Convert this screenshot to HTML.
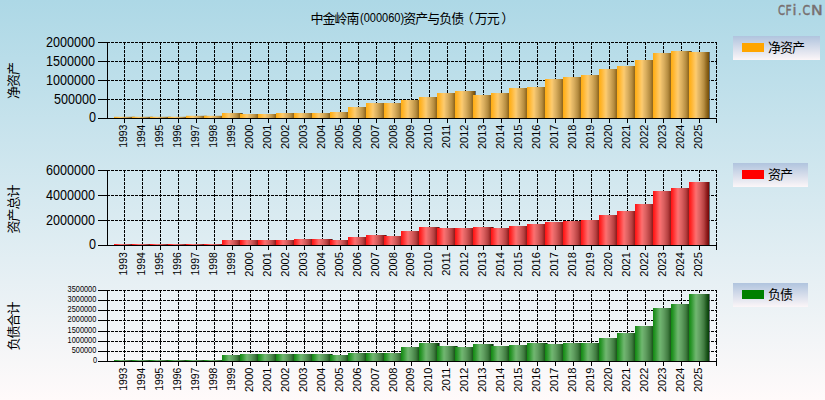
<!DOCTYPE html>
<html><head><meta charset="utf-8"><style>
html,body{margin:0;padding:0;width:825px;height:400px;overflow:hidden;background:#fff}
svg{display:block}
text{font-family:"Liberation Sans","Noto Sans CJK SC",sans-serif;fill:#000}
.yl{font-size:14px}
.ys{font-size:9px}
.xl{font-size:11px}
.at,.lt,.tt{font-size:13px;letter-spacing:-1px}
.tn{font-size:12px}
.wm text{font-size:14.5px;font-family:"DejaVu Sans",sans-serif;fill:#787070;stroke:#787070;stroke-width:0.45}
</style></head><body>
<svg width="825" height="400" viewBox="0 0 825 400">
<defs>
<linearGradient id="bg" x1="0" y1="0" x2="0" y2="1"><stop offset="0" stop-color="#add8e6"/><stop offset="1" stop-color="#fffafa"/></linearGradient>
<linearGradient id="lg" x1="0" y1="0" x2="0" y2="1"><stop offset="0" stop-color="#b0c4de"/><stop offset="1" stop-color="#fcf6f8"/></linearGradient>
<linearGradient id="gO" x1="0" y1="0" x2="1" y2="0"><stop offset="0.0" stop-color="rgb(255,171,18)"/><stop offset="0.05" stop-color="rgb(255,177,28)"/><stop offset="0.15" stop-color="rgb(255,184,54)"/><stop offset="0.25" stop-color="rgb(255,195,84)"/><stop offset="0.35" stop-color="rgb(252,203,112)"/><stop offset="0.45" stop-color="rgb(232,187,105)"/><stop offset="0.55" stop-color="rgb(217,174,94)"/><stop offset="0.65" stop-color="rgb(199,157,79)"/><stop offset="0.75" stop-color="rgb(181,140,64)"/><stop offset="0.85" stop-color="rgb(153,112,38)"/><stop offset="0.95" stop-color="rgb(128,88,15)"/><stop offset="1.0" stop-color="rgb(117,78,5)"/></linearGradient>
<linearGradient id="gR" x1="0" y1="0" x2="1" y2="0"><stop offset="0.0" stop-color="rgb(255,18,18)"/><stop offset="0.05" stop-color="rgb(255,28,28)"/><stop offset="0.15" stop-color="rgb(255,54,54)"/><stop offset="0.25" stop-color="rgb(255,84,84)"/><stop offset="0.35" stop-color="rgb(252,112,112)"/><stop offset="0.45" stop-color="rgb(232,105,105)"/><stop offset="0.55" stop-color="rgb(217,94,94)"/><stop offset="0.65" stop-color="rgb(199,79,79)"/><stop offset="0.75" stop-color="rgb(181,64,64)"/><stop offset="0.85" stop-color="rgb(153,38,38)"/><stop offset="0.95" stop-color="rgb(128,15,15)"/><stop offset="1.0" stop-color="rgb(117,5,5)"/></linearGradient>
<linearGradient id="gG" x1="0" y1="0" x2="1" y2="0"><stop offset="0.0" stop-color="rgb(18,137,18)"/><stop offset="0.05" stop-color="rgb(28,143,28)"/><stop offset="0.15" stop-color="rgb(54,155,54)"/><stop offset="0.25" stop-color="rgb(84,170,84)"/><stop offset="0.35" stop-color="rgb(112,183,112)"/><stop offset="0.45" stop-color="rgb(105,169,105)"/><stop offset="0.55" stop-color="rgb(94,156,94)"/><stop offset="0.65" stop-color="rgb(79,139,79)"/><stop offset="0.75" stop-color="rgb(64,123,64)"/><stop offset="0.85" stop-color="rgb(38,96,38)"/><stop offset="0.95" stop-color="rgb(15,72,15)"/><stop offset="1.0" stop-color="rgb(5,61,5)"/></linearGradient>
</defs>
<rect x="0" y="0" width="825" height="400" fill="url(#bg)"/>
<path d="M107 42.5H717M107 61.5H717M107 80.5H717M107 99.5H717M124.5 42V118M142.5 42V118M160.5 42V118M178.5 42V118M196.5 42V118M214.5 42V118M232.5 42V118M250.5 42V118M268.5 42V118M286.5 42V118M304.5 42V118M322.5 42V118M340.5 42V118M358.5 42V118M376.5 42V118M394.5 42V118M411.5 42V118M429.5 42V118M447.5 42V118M465.5 42V118M483.5 42V118M501.5 42V118M519.5 42V118M537.5 42V118M555.5 42V118M573.5 42V118M591.5 42V118M609.5 42V118M627.5 42V118M645.5 42V118M663.5 42V118M681.5 42V118M699.5 42V118M716.5 42V118" stroke="#000" stroke-width="1" stroke-dasharray="3 1" fill="none"/>
<rect x="114" y="116.8" width="20" height="1.20" fill="url(#gO)"/><rect x="134" y="116.8" width="1" height="1.20" fill="#3c4650" fill-opacity="0.75"/>
<rect x="132" y="116.8" width="20" height="1.20" fill="url(#gO)"/><rect x="152" y="116.8" width="1" height="1.20" fill="#3c4650" fill-opacity="0.75"/>
<rect x="150" y="116.8" width="20" height="1.20" fill="url(#gO)"/><rect x="170" y="116.8" width="1" height="1.20" fill="#3c4650" fill-opacity="0.75"/>
<rect x="168" y="116.8" width="20" height="1.20" fill="url(#gO)"/><rect x="188" y="116.8" width="1" height="1.20" fill="#3c4650" fill-opacity="0.75"/>
<rect x="186" y="115.8" width="20" height="2.20" fill="url(#gO)"/><rect x="206" y="115.8" width="1" height="2.20" fill="#3c4650" fill-opacity="0.75"/>
<rect x="204" y="115.8" width="20" height="2.20" fill="url(#gO)"/><rect x="224" y="115.8" width="1" height="2.20" fill="#3c4650" fill-opacity="0.75"/>
<rect x="222" y="113" width="20" height="5.00" fill="url(#gO)"/><rect x="242" y="113" width="1" height="5.00" fill="#3c4650" fill-opacity="0.75"/>
<rect x="240" y="114" width="20" height="4.00" fill="url(#gO)"/><rect x="260" y="114" width="1" height="4.00" fill="#3c4650" fill-opacity="0.75"/>
<rect x="258" y="114" width="20" height="4.00" fill="url(#gO)"/><rect x="278" y="114" width="1" height="4.00" fill="#3c4650" fill-opacity="0.75"/>
<rect x="276" y="113" width="20" height="5.00" fill="url(#gO)"/><rect x="296" y="113" width="1" height="5.00" fill="#3c4650" fill-opacity="0.75"/>
<rect x="294" y="113" width="20" height="5.00" fill="url(#gO)"/><rect x="314" y="113" width="1" height="5.00" fill="#3c4650" fill-opacity="0.75"/>
<rect x="312" y="113" width="20" height="5.00" fill="url(#gO)"/><rect x="332" y="113" width="1" height="5.00" fill="#3c4650" fill-opacity="0.75"/>
<rect x="330" y="112" width="20" height="6.00" fill="url(#gO)"/><rect x="350" y="112" width="1" height="6.00" fill="#3c4650" fill-opacity="0.75"/>
<rect x="348" y="107" width="20" height="11.00" fill="url(#gO)"/><rect x="368" y="107" width="1" height="11.00" fill="#3c4650" fill-opacity="0.75"/>
<rect x="366" y="103" width="20" height="15.00" fill="url(#gO)"/><rect x="386" y="103" width="1" height="15.00" fill="#3c4650" fill-opacity="0.75"/>
<rect x="384" y="103" width="20" height="15.00" fill="url(#gO)"/><rect x="404" y="103" width="1" height="15.00" fill="#3c4650" fill-opacity="0.75"/>
<rect x="401" y="100" width="20" height="18.00" fill="url(#gO)"/><rect x="421" y="100" width="1" height="18.00" fill="#3c4650" fill-opacity="0.75"/>
<rect x="419" y="97" width="20" height="21.00" fill="url(#gO)"/><rect x="439" y="97" width="1" height="21.00" fill="#3c4650" fill-opacity="0.75"/>
<rect x="437" y="93" width="20" height="25.00" fill="url(#gO)"/><rect x="457" y="93" width="1" height="25.00" fill="#3c4650" fill-opacity="0.75"/>
<rect x="455" y="91" width="20" height="27.00" fill="url(#gO)"/><rect x="475" y="91" width="1" height="27.00" fill="#3c4650" fill-opacity="0.75"/>
<rect x="473" y="95" width="20" height="23.00" fill="url(#gO)"/><rect x="493" y="95" width="1" height="23.00" fill="#3c4650" fill-opacity="0.75"/>
<rect x="491" y="93" width="20" height="25.00" fill="url(#gO)"/><rect x="511" y="93" width="1" height="25.00" fill="#3c4650" fill-opacity="0.75"/>
<rect x="509" y="88" width="20" height="30.00" fill="url(#gO)"/><rect x="529" y="88" width="1" height="30.00" fill="#3c4650" fill-opacity="0.75"/>
<rect x="527" y="87" width="20" height="31.00" fill="url(#gO)"/><rect x="547" y="87" width="1" height="31.00" fill="#3c4650" fill-opacity="0.75"/>
<rect x="545" y="79" width="20" height="39.00" fill="url(#gO)"/><rect x="565" y="79" width="1" height="39.00" fill="#3c4650" fill-opacity="0.75"/>
<rect x="563" y="77" width="20" height="41.00" fill="url(#gO)"/><rect x="583" y="77" width="1" height="41.00" fill="#3c4650" fill-opacity="0.75"/>
<rect x="581" y="75" width="20" height="43.00" fill="url(#gO)"/><rect x="601" y="75" width="1" height="43.00" fill="#3c4650" fill-opacity="0.75"/>
<rect x="599" y="69" width="20" height="49.00" fill="url(#gO)"/><rect x="619" y="69" width="1" height="49.00" fill="#3c4650" fill-opacity="0.75"/>
<rect x="617" y="66" width="20" height="52.00" fill="url(#gO)"/><rect x="637" y="66" width="1" height="52.00" fill="#3c4650" fill-opacity="0.75"/>
<rect x="635" y="60" width="20" height="58.00" fill="url(#gO)"/><rect x="655" y="60" width="1" height="58.00" fill="#3c4650" fill-opacity="0.75"/>
<rect x="653" y="53" width="20" height="65.00" fill="url(#gO)"/><rect x="673" y="53" width="1" height="65.00" fill="#3c4650" fill-opacity="0.75"/>
<rect x="671" y="51" width="20" height="67.00" fill="url(#gO)"/><rect x="691" y="51" width="1" height="67.00" fill="#3c4650" fill-opacity="0.75"/>
<rect x="689" y="52" width="20" height="66.00" fill="url(#gO)"/><rect x="709" y="52" width="1" height="66.00" fill="#3c4650" fill-opacity="0.75"/>
<path d="M107.5 42V119M107 118.5H717M98 42.5H107M98 61.5H107M98 80.5H107M98 99.5H107M98 118.5H107M124.5 118V123M142.5 118V123M160.5 118V123M178.5 118V123M196.5 118V123M214.5 118V123M232.5 118V123M250.5 118V123M268.5 118V123M286.5 118V123M304.5 118V123M322.5 118V123M340.5 118V123M358.5 118V123M376.5 118V123M394.5 118V123M411.5 118V123M429.5 118V123M447.5 118V123M465.5 118V123M483.5 118V123M501.5 118V123M519.5 118V123M537.5 118V123M555.5 118V123M573.5 118V123M591.5 118V123M609.5 118V123M627.5 118V123M645.5 118V123M663.5 118V123M681.5 118V123M699.5 118V123M716.5 118V123" stroke="#000" stroke-width="1" fill="none"/>
<text class="yl" text-anchor="end" transform="translate(95,47) scale(0.9,1)">2000000</text>
<text class="yl" text-anchor="end" transform="translate(95,66) scale(0.9,1)">1500000</text>
<text class="yl" text-anchor="end" transform="translate(95,85) scale(0.9,1)">1000000</text>
<text class="yl" text-anchor="end" transform="translate(96.1,104) scale(0.9,1)">500000</text>
<text class="yl" text-anchor="end" transform="translate(96.1,122.3) scale(0.9,1)">0</text>
<text class="xl" text-anchor="end" transform="translate(127.2,124.6) rotate(-90) scale(0.95,1)">1993</text>
<text class="xl" text-anchor="end" transform="translate(145.2,124.6) rotate(-90) scale(0.95,1)">1994</text>
<text class="xl" text-anchor="end" transform="translate(163.2,124.6) rotate(-90) scale(0.95,1)">1995</text>
<text class="xl" text-anchor="end" transform="translate(181.2,124.6) rotate(-90) scale(0.95,1)">1996</text>
<text class="xl" text-anchor="end" transform="translate(199.2,124.6) rotate(-90) scale(0.95,1)">1997</text>
<text class="xl" text-anchor="end" transform="translate(217.2,124.6) rotate(-90) scale(0.95,1)">1998</text>
<text class="xl" text-anchor="end" transform="translate(235.2,124.6) rotate(-90) scale(0.95,1)">1999</text>
<text class="xl" text-anchor="end" transform="translate(253.2,124.6) rotate(-90)">2000</text>
<text class="xl" text-anchor="end" transform="translate(271.2,124.6) rotate(-90)">2001</text>
<text class="xl" text-anchor="end" transform="translate(289.2,124.6) rotate(-90)">2002</text>
<text class="xl" text-anchor="end" transform="translate(307.2,124.6) rotate(-90)">2003</text>
<text class="xl" text-anchor="end" transform="translate(325.2,124.6) rotate(-90)">2004</text>
<text class="xl" text-anchor="end" transform="translate(343.2,124.6) rotate(-90)">2005</text>
<text class="xl" text-anchor="end" transform="translate(361.2,124.6) rotate(-90)">2006</text>
<text class="xl" text-anchor="end" transform="translate(379.2,124.6) rotate(-90)">2007</text>
<text class="xl" text-anchor="end" transform="translate(397.2,124.6) rotate(-90)">2008</text>
<text class="xl" text-anchor="end" transform="translate(414.2,124.6) rotate(-90)">2009</text>
<text class="xl" text-anchor="end" transform="translate(432.2,124.6) rotate(-90)">2010</text>
<text class="xl" text-anchor="end" transform="translate(450.2,124.6) rotate(-90)">2011</text>
<text class="xl" text-anchor="end" transform="translate(468.2,124.6) rotate(-90)">2012</text>
<text class="xl" text-anchor="end" transform="translate(486.2,124.6) rotate(-90)">2013</text>
<text class="xl" text-anchor="end" transform="translate(504.2,124.6) rotate(-90)">2014</text>
<text class="xl" text-anchor="end" transform="translate(522.2,124.6) rotate(-90)">2015</text>
<text class="xl" text-anchor="end" transform="translate(540.2,124.6) rotate(-90)">2016</text>
<text class="xl" text-anchor="end" transform="translate(558.2,124.6) rotate(-90)">2017</text>
<text class="xl" text-anchor="end" transform="translate(576.2,124.6) rotate(-90)">2018</text>
<text class="xl" text-anchor="end" transform="translate(594.2,124.6) rotate(-90)">2019</text>
<text class="xl" text-anchor="end" transform="translate(612.2,124.6) rotate(-90)">2020</text>
<text class="xl" text-anchor="end" transform="translate(630.2,124.6) rotate(-90)">2021</text>
<text class="xl" text-anchor="end" transform="translate(648.2,124.6) rotate(-90)">2022</text>
<text class="xl" text-anchor="end" transform="translate(666.2,124.6) rotate(-90)">2023</text>
<text class="xl" text-anchor="end" transform="translate(684.2,124.6) rotate(-90)">2024</text>
<text class="xl" text-anchor="end" transform="translate(702.2,124.6) rotate(-90)">2025</text>
<text class="at" text-anchor="middle" transform="translate(17.5,81) rotate(-90)">净资产</text>
<path d="M107 170.5H717M107 195.5H717M107 220.5H717M124.5 170V245M142.5 170V245M160.5 170V245M178.5 170V245M196.5 170V245M214.5 170V245M232.5 170V245M250.5 170V245M268.5 170V245M286.5 170V245M304.5 170V245M322.5 170V245M340.5 170V245M358.5 170V245M376.5 170V245M394.5 170V245M411.5 170V245M429.5 170V245M447.5 170V245M465.5 170V245M483.5 170V245M501.5 170V245M519.5 170V245M537.5 170V245M555.5 170V245M573.5 170V245M591.5 170V245M609.5 170V245M627.5 170V245M645.5 170V245M663.5 170V245M681.5 170V245M699.5 170V245M716.5 170V245" stroke="#000" stroke-width="1" stroke-dasharray="3 1" fill="none"/>
<rect x="114" y="244.0" width="20" height="1.00" fill="url(#gR)"/><rect x="134" y="244.0" width="1" height="1.00" fill="#3c4650" fill-opacity="0.75"/>
<rect x="132" y="244.0" width="20" height="1.00" fill="url(#gR)"/><rect x="152" y="244.0" width="1" height="1.00" fill="#3c4650" fill-opacity="0.75"/>
<rect x="150" y="244.0" width="20" height="1.00" fill="url(#gR)"/><rect x="170" y="244.0" width="1" height="1.00" fill="#3c4650" fill-opacity="0.75"/>
<rect x="168" y="244.0" width="20" height="1.00" fill="url(#gR)"/><rect x="188" y="244.0" width="1" height="1.00" fill="#3c4650" fill-opacity="0.75"/>
<rect x="186" y="244.0" width="20" height="1.00" fill="url(#gR)"/><rect x="206" y="244.0" width="1" height="1.00" fill="#3c4650" fill-opacity="0.75"/>
<rect x="204" y="244.0" width="20" height="1.00" fill="url(#gR)"/><rect x="224" y="244.0" width="1" height="1.00" fill="#3c4650" fill-opacity="0.75"/>
<rect x="222" y="240" width="20" height="5.00" fill="url(#gR)"/><rect x="242" y="240" width="1" height="5.00" fill="#3c4650" fill-opacity="0.75"/>
<rect x="240" y="240" width="20" height="5.00" fill="url(#gR)"/><rect x="260" y="240" width="1" height="5.00" fill="#3c4650" fill-opacity="0.75"/>
<rect x="258" y="240" width="20" height="5.00" fill="url(#gR)"/><rect x="278" y="240" width="1" height="5.00" fill="#3c4650" fill-opacity="0.75"/>
<rect x="276" y="240" width="20" height="5.00" fill="url(#gR)"/><rect x="296" y="240" width="1" height="5.00" fill="#3c4650" fill-opacity="0.75"/>
<rect x="294" y="239" width="20" height="6.00" fill="url(#gR)"/><rect x="314" y="239" width="1" height="6.00" fill="#3c4650" fill-opacity="0.75"/>
<rect x="312" y="239" width="20" height="6.00" fill="url(#gR)"/><rect x="332" y="239" width="1" height="6.00" fill="#3c4650" fill-opacity="0.75"/>
<rect x="330" y="240" width="20" height="5.00" fill="url(#gR)"/><rect x="350" y="240" width="1" height="5.00" fill="#3c4650" fill-opacity="0.75"/>
<rect x="348" y="237" width="20" height="8.00" fill="url(#gR)"/><rect x="368" y="237" width="1" height="8.00" fill="#3c4650" fill-opacity="0.75"/>
<rect x="366" y="235" width="20" height="10.00" fill="url(#gR)"/><rect x="386" y="235" width="1" height="10.00" fill="#3c4650" fill-opacity="0.75"/>
<rect x="384" y="236" width="20" height="9.00" fill="url(#gR)"/><rect x="404" y="236" width="1" height="9.00" fill="#3c4650" fill-opacity="0.75"/>
<rect x="401" y="231" width="20" height="14.00" fill="url(#gR)"/><rect x="421" y="231" width="1" height="14.00" fill="#3c4650" fill-opacity="0.75"/>
<rect x="419" y="227" width="20" height="18.00" fill="url(#gR)"/><rect x="439" y="227" width="1" height="18.00" fill="#3c4650" fill-opacity="0.75"/>
<rect x="437" y="228" width="20" height="17.00" fill="url(#gR)"/><rect x="457" y="228" width="1" height="17.00" fill="#3c4650" fill-opacity="0.75"/>
<rect x="455" y="228" width="20" height="17.00" fill="url(#gR)"/><rect x="475" y="228" width="1" height="17.00" fill="#3c4650" fill-opacity="0.75"/>
<rect x="473" y="227" width="20" height="18.00" fill="url(#gR)"/><rect x="493" y="227" width="1" height="18.00" fill="#3c4650" fill-opacity="0.75"/>
<rect x="491" y="228" width="20" height="17.00" fill="url(#gR)"/><rect x="511" y="228" width="1" height="17.00" fill="#3c4650" fill-opacity="0.75"/>
<rect x="509" y="226" width="20" height="19.00" fill="url(#gR)"/><rect x="529" y="226" width="1" height="19.00" fill="#3c4650" fill-opacity="0.75"/>
<rect x="527" y="224" width="20" height="21.00" fill="url(#gR)"/><rect x="547" y="224" width="1" height="21.00" fill="#3c4650" fill-opacity="0.75"/>
<rect x="545" y="222" width="20" height="23.00" fill="url(#gR)"/><rect x="565" y="222" width="1" height="23.00" fill="#3c4650" fill-opacity="0.75"/>
<rect x="563" y="221" width="20" height="24.00" fill="url(#gR)"/><rect x="583" y="221" width="1" height="24.00" fill="#3c4650" fill-opacity="0.75"/>
<rect x="581" y="220" width="20" height="25.00" fill="url(#gR)"/><rect x="601" y="220" width="1" height="25.00" fill="#3c4650" fill-opacity="0.75"/>
<rect x="599" y="215" width="20" height="30.00" fill="url(#gR)"/><rect x="619" y="215" width="1" height="30.00" fill="#3c4650" fill-opacity="0.75"/>
<rect x="617" y="211" width="20" height="34.00" fill="url(#gR)"/><rect x="637" y="211" width="1" height="34.00" fill="#3c4650" fill-opacity="0.75"/>
<rect x="635" y="204" width="20" height="41.00" fill="url(#gR)"/><rect x="655" y="204" width="1" height="41.00" fill="#3c4650" fill-opacity="0.75"/>
<rect x="653" y="191" width="20" height="54.00" fill="url(#gR)"/><rect x="673" y="191" width="1" height="54.00" fill="#3c4650" fill-opacity="0.75"/>
<rect x="671" y="188" width="20" height="57.00" fill="url(#gR)"/><rect x="691" y="188" width="1" height="57.00" fill="#3c4650" fill-opacity="0.75"/>
<rect x="689" y="182" width="20" height="63.00" fill="url(#gR)"/><rect x="709" y="182" width="1" height="63.00" fill="#3c4650" fill-opacity="0.75"/>
<path d="M107.5 170V246M107 245.5H717M98 170.5H107M98 195.5H107M98 220.5H107M98 245.5H107M124.5 245V250M142.5 245V250M160.5 245V250M178.5 245V250M196.5 245V250M214.5 245V250M232.5 245V250M250.5 245V250M268.5 245V250M286.5 245V250M304.5 245V250M322.5 245V250M340.5 245V250M358.5 245V250M376.5 245V250M394.5 245V250M411.5 245V250M429.5 245V250M447.5 245V250M465.5 245V250M483.5 245V250M501.5 245V250M519.5 245V250M537.5 245V250M555.5 245V250M573.5 245V250M591.5 245V250M609.5 245V250M627.5 245V250M645.5 245V250M663.5 245V250M681.5 245V250M699.5 245V250M716.5 245V250" stroke="#000" stroke-width="1" fill="none"/>
<text class="yl" text-anchor="end" transform="translate(95,175) scale(0.9,1)">6000000</text>
<text class="yl" text-anchor="end" transform="translate(95,200) scale(0.9,1)">4000000</text>
<text class="yl" text-anchor="end" transform="translate(95,225) scale(0.9,1)">2000000</text>
<text class="yl" text-anchor="end" transform="translate(96.1,249.3) scale(0.9,1)">0</text>
<text class="xl" text-anchor="end" transform="translate(127.2,252.2) rotate(-90) scale(0.95,1)">1993</text>
<text class="xl" text-anchor="end" transform="translate(145.2,252.2) rotate(-90) scale(0.95,1)">1994</text>
<text class="xl" text-anchor="end" transform="translate(163.2,252.2) rotate(-90) scale(0.95,1)">1995</text>
<text class="xl" text-anchor="end" transform="translate(181.2,252.2) rotate(-90) scale(0.95,1)">1996</text>
<text class="xl" text-anchor="end" transform="translate(199.2,252.2) rotate(-90) scale(0.95,1)">1997</text>
<text class="xl" text-anchor="end" transform="translate(217.2,252.2) rotate(-90) scale(0.95,1)">1998</text>
<text class="xl" text-anchor="end" transform="translate(235.2,252.2) rotate(-90) scale(0.95,1)">1999</text>
<text class="xl" text-anchor="end" transform="translate(253.2,252.2) rotate(-90)">2000</text>
<text class="xl" text-anchor="end" transform="translate(271.2,252.2) rotate(-90)">2001</text>
<text class="xl" text-anchor="end" transform="translate(289.2,252.2) rotate(-90)">2002</text>
<text class="xl" text-anchor="end" transform="translate(307.2,252.2) rotate(-90)">2003</text>
<text class="xl" text-anchor="end" transform="translate(325.2,252.2) rotate(-90)">2004</text>
<text class="xl" text-anchor="end" transform="translate(343.2,252.2) rotate(-90)">2005</text>
<text class="xl" text-anchor="end" transform="translate(361.2,252.2) rotate(-90)">2006</text>
<text class="xl" text-anchor="end" transform="translate(379.2,252.2) rotate(-90)">2007</text>
<text class="xl" text-anchor="end" transform="translate(397.2,252.2) rotate(-90)">2008</text>
<text class="xl" text-anchor="end" transform="translate(414.2,252.2) rotate(-90)">2009</text>
<text class="xl" text-anchor="end" transform="translate(432.2,252.2) rotate(-90)">2010</text>
<text class="xl" text-anchor="end" transform="translate(450.2,252.2) rotate(-90)">2011</text>
<text class="xl" text-anchor="end" transform="translate(468.2,252.2) rotate(-90)">2012</text>
<text class="xl" text-anchor="end" transform="translate(486.2,252.2) rotate(-90)">2013</text>
<text class="xl" text-anchor="end" transform="translate(504.2,252.2) rotate(-90)">2014</text>
<text class="xl" text-anchor="end" transform="translate(522.2,252.2) rotate(-90)">2015</text>
<text class="xl" text-anchor="end" transform="translate(540.2,252.2) rotate(-90)">2016</text>
<text class="xl" text-anchor="end" transform="translate(558.2,252.2) rotate(-90)">2017</text>
<text class="xl" text-anchor="end" transform="translate(576.2,252.2) rotate(-90)">2018</text>
<text class="xl" text-anchor="end" transform="translate(594.2,252.2) rotate(-90)">2019</text>
<text class="xl" text-anchor="end" transform="translate(612.2,252.2) rotate(-90)">2020</text>
<text class="xl" text-anchor="end" transform="translate(630.2,252.2) rotate(-90)">2021</text>
<text class="xl" text-anchor="end" transform="translate(648.2,252.2) rotate(-90)">2022</text>
<text class="xl" text-anchor="end" transform="translate(666.2,252.2) rotate(-90)">2023</text>
<text class="xl" text-anchor="end" transform="translate(684.2,252.2) rotate(-90)">2024</text>
<text class="xl" text-anchor="end" transform="translate(702.2,252.2) rotate(-90)">2025</text>
<text class="at" text-anchor="middle" transform="translate(17.5,209.5) rotate(-90)">资产总计</text>
<path d="M107 290.5H717M107 300.5H717M107 310.5H717M107 320.5H717M107 331.5H717M107 341.5H717M107 351.5H717M124.5 290V361M142.5 290V361M160.5 290V361M178.5 290V361M196.5 290V361M214.5 290V361M232.5 290V361M250.5 290V361M268.5 290V361M286.5 290V361M304.5 290V361M322.5 290V361M340.5 290V361M358.5 290V361M376.5 290V361M394.5 290V361M411.5 290V361M429.5 290V361M447.5 290V361M465.5 290V361M483.5 290V361M501.5 290V361M519.5 290V361M537.5 290V361M555.5 290V361M573.5 290V361M591.5 290V361M609.5 290V361M627.5 290V361M645.5 290V361M663.5 290V361M681.5 290V361M699.5 290V361M716.5 290V361" stroke="#000" stroke-width="1" stroke-dasharray="3 1" fill="none"/>
<rect x="114" y="360.0" width="20" height="1.00" fill="url(#gG)"/><rect x="134" y="360.0" width="1" height="1.00" fill="#3c4650" fill-opacity="0.75"/>
<rect x="132" y="360.0" width="20" height="1.00" fill="url(#gG)"/><rect x="152" y="360.0" width="1" height="1.00" fill="#3c4650" fill-opacity="0.75"/>
<rect x="150" y="360.0" width="20" height="1.00" fill="url(#gG)"/><rect x="170" y="360.0" width="1" height="1.00" fill="#3c4650" fill-opacity="0.75"/>
<rect x="168" y="360.0" width="20" height="1.00" fill="url(#gG)"/><rect x="188" y="360.0" width="1" height="1.00" fill="#3c4650" fill-opacity="0.75"/>
<rect x="186" y="360.0" width="20" height="1.00" fill="url(#gG)"/><rect x="206" y="360.0" width="1" height="1.00" fill="#3c4650" fill-opacity="0.75"/>
<rect x="204" y="360.0" width="20" height="1.00" fill="url(#gG)"/><rect x="224" y="360.0" width="1" height="1.00" fill="#3c4650" fill-opacity="0.75"/>
<rect x="222" y="355" width="20" height="6.00" fill="url(#gG)"/><rect x="242" y="355" width="1" height="6.00" fill="#3c4650" fill-opacity="0.75"/>
<rect x="240" y="354" width="20" height="7.00" fill="url(#gG)"/><rect x="260" y="354" width="1" height="7.00" fill="#3c4650" fill-opacity="0.75"/>
<rect x="258" y="354" width="20" height="7.00" fill="url(#gG)"/><rect x="278" y="354" width="1" height="7.00" fill="#3c4650" fill-opacity="0.75"/>
<rect x="276" y="354" width="20" height="7.00" fill="url(#gG)"/><rect x="296" y="354" width="1" height="7.00" fill="#3c4650" fill-opacity="0.75"/>
<rect x="294" y="354" width="20" height="7.00" fill="url(#gG)"/><rect x="314" y="354" width="1" height="7.00" fill="#3c4650" fill-opacity="0.75"/>
<rect x="312" y="354" width="20" height="7.00" fill="url(#gG)"/><rect x="332" y="354" width="1" height="7.00" fill="#3c4650" fill-opacity="0.75"/>
<rect x="330" y="355" width="20" height="6.00" fill="url(#gG)"/><rect x="350" y="355" width="1" height="6.00" fill="#3c4650" fill-opacity="0.75"/>
<rect x="348" y="353" width="20" height="8.00" fill="url(#gG)"/><rect x="368" y="353" width="1" height="8.00" fill="#3c4650" fill-opacity="0.75"/>
<rect x="366" y="353" width="20" height="8.00" fill="url(#gG)"/><rect x="386" y="353" width="1" height="8.00" fill="#3c4650" fill-opacity="0.75"/>
<rect x="384" y="353" width="20" height="8.00" fill="url(#gG)"/><rect x="404" y="353" width="1" height="8.00" fill="#3c4650" fill-opacity="0.75"/>
<rect x="401" y="347" width="20" height="14.00" fill="url(#gG)"/><rect x="421" y="347" width="1" height="14.00" fill="#3c4650" fill-opacity="0.75"/>
<rect x="419" y="343" width="20" height="18.00" fill="url(#gG)"/><rect x="439" y="343" width="1" height="18.00" fill="#3c4650" fill-opacity="0.75"/>
<rect x="437" y="346" width="20" height="15.00" fill="url(#gG)"/><rect x="457" y="346" width="1" height="15.00" fill="#3c4650" fill-opacity="0.75"/>
<rect x="455" y="347" width="20" height="14.00" fill="url(#gG)"/><rect x="475" y="347" width="1" height="14.00" fill="#3c4650" fill-opacity="0.75"/>
<rect x="473" y="344" width="20" height="17.00" fill="url(#gG)"/><rect x="493" y="344" width="1" height="17.00" fill="#3c4650" fill-opacity="0.75"/>
<rect x="491" y="346" width="20" height="15.00" fill="url(#gG)"/><rect x="511" y="346" width="1" height="15.00" fill="#3c4650" fill-opacity="0.75"/>
<rect x="509" y="345" width="20" height="16.00" fill="url(#gG)"/><rect x="529" y="345" width="1" height="16.00" fill="#3c4650" fill-opacity="0.75"/>
<rect x="527" y="343" width="20" height="18.00" fill="url(#gG)"/><rect x="547" y="343" width="1" height="18.00" fill="#3c4650" fill-opacity="0.75"/>
<rect x="545" y="344" width="20" height="17.00" fill="url(#gG)"/><rect x="565" y="344" width="1" height="17.00" fill="#3c4650" fill-opacity="0.75"/>
<rect x="563" y="343" width="20" height="18.00" fill="url(#gG)"/><rect x="583" y="343" width="1" height="18.00" fill="#3c4650" fill-opacity="0.75"/>
<rect x="581" y="343" width="20" height="18.00" fill="url(#gG)"/><rect x="601" y="343" width="1" height="18.00" fill="#3c4650" fill-opacity="0.75"/>
<rect x="599" y="338" width="20" height="23.00" fill="url(#gG)"/><rect x="619" y="338" width="1" height="23.00" fill="#3c4650" fill-opacity="0.75"/>
<rect x="617" y="333" width="20" height="28.00" fill="url(#gG)"/><rect x="637" y="333" width="1" height="28.00" fill="#3c4650" fill-opacity="0.75"/>
<rect x="635" y="326" width="20" height="35.00" fill="url(#gG)"/><rect x="655" y="326" width="1" height="35.00" fill="#3c4650" fill-opacity="0.75"/>
<rect x="653" y="308" width="20" height="53.00" fill="url(#gG)"/><rect x="673" y="308" width="1" height="53.00" fill="#3c4650" fill-opacity="0.75"/>
<rect x="671" y="304" width="20" height="57.00" fill="url(#gG)"/><rect x="691" y="304" width="1" height="57.00" fill="#3c4650" fill-opacity="0.75"/>
<rect x="689" y="294" width="20" height="67.00" fill="url(#gG)"/><rect x="709" y="294" width="1" height="67.00" fill="#3c4650" fill-opacity="0.75"/>
<path d="M107.5 290V362M107 361.5H717M98 290.5H107M98 300.5H107M98 310.5H107M98 320.5H107M98 331.5H107M98 341.5H107M98 351.5H107M98 361.5H107M124.5 361V366M142.5 361V366M160.5 361V366M178.5 361V366M196.5 361V366M214.5 361V366M232.5 361V366M250.5 361V366M268.5 361V366M286.5 361V366M304.5 361V366M322.5 361V366M340.5 361V366M358.5 361V366M376.5 361V366M394.5 361V366M411.5 361V366M429.5 361V366M447.5 361V366M465.5 361V366M483.5 361V366M501.5 361V366M519.5 361V366M537.5 361V366M555.5 361V366M573.5 361V366M591.5 361V366M609.5 361V366M627.5 361V366M645.5 361V366M663.5 361V366M681.5 361V366M699.5 361V366M716.5 361V366" stroke="#000" stroke-width="1" fill="none"/>
<text class="ys" text-anchor="end" transform="translate(96.3,292.2) scale(0.82,1)">3500000</text>
<text class="ys" text-anchor="end" transform="translate(96.3,302.2) scale(0.82,1)">3000000</text>
<text class="ys" text-anchor="end" transform="translate(96.3,312.2) scale(0.82,1)">2500000</text>
<text class="ys" text-anchor="end" transform="translate(96.3,322.2) scale(0.82,1)">2000000</text>
<text class="ys" text-anchor="end" transform="translate(96.3,333.2) scale(0.82,1)">1500000</text>
<text class="ys" text-anchor="end" transform="translate(96.3,343.2) scale(0.82,1)">1000000</text>
<text class="ys" text-anchor="end" transform="translate(96.3,353.2) scale(0.82,1)">500000</text>
<text class="ys" text-anchor="end" transform="translate(97.0,362.8) scale(0.82,1)">0</text>
<text class="xl" text-anchor="end" transform="translate(127.2,367.6) rotate(-90) scale(0.95,1)">1993</text>
<text class="xl" text-anchor="end" transform="translate(145.2,367.6) rotate(-90) scale(0.95,1)">1994</text>
<text class="xl" text-anchor="end" transform="translate(163.2,367.6) rotate(-90) scale(0.95,1)">1995</text>
<text class="xl" text-anchor="end" transform="translate(181.2,367.6) rotate(-90) scale(0.95,1)">1996</text>
<text class="xl" text-anchor="end" transform="translate(199.2,367.6) rotate(-90) scale(0.95,1)">1997</text>
<text class="xl" text-anchor="end" transform="translate(217.2,367.6) rotate(-90) scale(0.95,1)">1998</text>
<text class="xl" text-anchor="end" transform="translate(235.2,367.6) rotate(-90) scale(0.95,1)">1999</text>
<text class="xl" text-anchor="end" transform="translate(253.2,367.6) rotate(-90)">2000</text>
<text class="xl" text-anchor="end" transform="translate(271.2,367.6) rotate(-90)">2001</text>
<text class="xl" text-anchor="end" transform="translate(289.2,367.6) rotate(-90)">2002</text>
<text class="xl" text-anchor="end" transform="translate(307.2,367.6) rotate(-90)">2003</text>
<text class="xl" text-anchor="end" transform="translate(325.2,367.6) rotate(-90)">2004</text>
<text class="xl" text-anchor="end" transform="translate(343.2,367.6) rotate(-90)">2005</text>
<text class="xl" text-anchor="end" transform="translate(361.2,367.6) rotate(-90)">2006</text>
<text class="xl" text-anchor="end" transform="translate(379.2,367.6) rotate(-90)">2007</text>
<text class="xl" text-anchor="end" transform="translate(397.2,367.6) rotate(-90)">2008</text>
<text class="xl" text-anchor="end" transform="translate(414.2,367.6) rotate(-90)">2009</text>
<text class="xl" text-anchor="end" transform="translate(432.2,367.6) rotate(-90)">2010</text>
<text class="xl" text-anchor="end" transform="translate(450.2,367.6) rotate(-90)">2011</text>
<text class="xl" text-anchor="end" transform="translate(468.2,367.6) rotate(-90)">2012</text>
<text class="xl" text-anchor="end" transform="translate(486.2,367.6) rotate(-90)">2013</text>
<text class="xl" text-anchor="end" transform="translate(504.2,367.6) rotate(-90)">2014</text>
<text class="xl" text-anchor="end" transform="translate(522.2,367.6) rotate(-90)">2015</text>
<text class="xl" text-anchor="end" transform="translate(540.2,367.6) rotate(-90)">2016</text>
<text class="xl" text-anchor="end" transform="translate(558.2,367.6) rotate(-90)">2017</text>
<text class="xl" text-anchor="end" transform="translate(576.2,367.6) rotate(-90)">2018</text>
<text class="xl" text-anchor="end" transform="translate(594.2,367.6) rotate(-90)">2019</text>
<text class="xl" text-anchor="end" transform="translate(612.2,367.6) rotate(-90)">2020</text>
<text class="xl" text-anchor="end" transform="translate(630.2,367.6) rotate(-90)">2021</text>
<text class="xl" text-anchor="end" transform="translate(648.2,367.6) rotate(-90)">2022</text>
<text class="xl" text-anchor="end" transform="translate(666.2,367.6) rotate(-90)">2023</text>
<text class="xl" text-anchor="end" transform="translate(684.2,367.6) rotate(-90)">2024</text>
<text class="xl" text-anchor="end" transform="translate(702.2,367.6) rotate(-90)">2025</text>
<text class="at" text-anchor="middle" transform="translate(17.5,326.5) rotate(-90)">负债合计</text>
<rect x="733" y="36" width="87" height="24" fill="url(#lg)"/>
<rect x="742" y="43" width="22" height="9" fill="#ffa500"/>
<text class="lt" transform="translate(768,52)">净资产</text>
<rect x="733" y="163" width="75" height="24" fill="url(#lg)"/>
<rect x="742" y="170" width="22" height="9" fill="#ff0000"/>
<text class="lt" transform="translate(768,179)">资产</text>
<rect x="733" y="283" width="75" height="24" fill="url(#lg)"/>
<rect x="742" y="290" width="22" height="9" fill="#008000"/>
<text class="lt" transform="translate(768,299)">负债</text>
<text class="tt" transform="translate(310.5,23.2)">中金岭南</text>
<text class="tn" transform="translate(360,21.6) scale(0.92,1)">(000060)</text>
<text class="tt" x="403.2 415.2 427.2 439.2 451.2 460.8 474.7 486.7 501.2" y="23.2">资产与负债（万元）</text>
<g class="wm">
<text class="w" transform="translate(778.0,15) scale(0.7,1)">C</text>
<text class="w" transform="translate(785.46,15) scale(0.743,1)">F</text>
<text class="w" transform="translate(792.5,15)">i</text>
<text class="w" transform="translate(798.33,15) scale(0.667,1)">.</text>
<text class="w" transform="translate(802.6,15) scale(0.76,1)">C</text>
<text class="w" transform="translate(811.1,15) scale(1.08,1)">N</text>
</g>
</svg>
</body></html>
